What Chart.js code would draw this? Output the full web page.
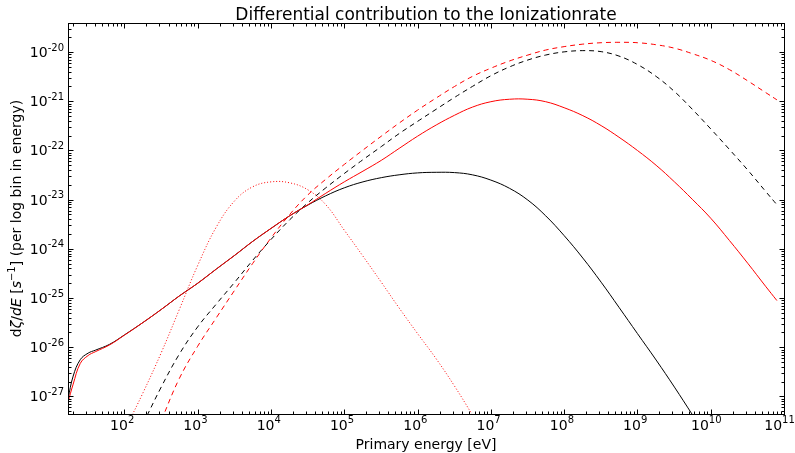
<!DOCTYPE html>
<html>
<head>
<meta charset="utf-8">
<script src="https://cdn.jsdelivr.net/npm/chart.js@4.4.1/dist/chart.umd.min.js"></script>
<style>
  html, body { margin: 0; padding: 0; background: #fff; }
  #wrap { width: 795px; height: 453px; }
</style>
</head>
<body>
<div id="wrap"><canvas id="chart" width="795" height="453"></canvas></div>
<script>
// Primary energy grid [eV]
const energy = [17, 20, 25, 32, 40, 63, 100, 180, 320, 560,
    1e3, 1.8e3, 3.2e3, 5.6e3, 1e4, 1.8e4, 3.2e4, 5.6e4, 1e5, 1.8e5,
    3.2e5, 5.6e5, 1e6, 1.8e6, 3.2e6, 5.6e6, 1e7, 1.8e7, 3.2e7, 5.6e7,
    1e8, 1.8e8, 3.2e8, 5.6e8, 1e9, 1.8e9, 3.2e9, 5.6e9, 1e10, 1.8e10,
    3.2e10, 5.6e10, 8e10];

// dzeta/dE per log bin [s^-1]
const blackSolid = [8.9e-28, 2.6e-27, 5.6e-27, 7.6e-27, 8.7e-27, 1.15e-26, 1.78e-26, 3.2e-26, 5.9e-26, 1.1e-25,
    2.0e-25, 3.9e-25, 7.4e-25, 1.41e-24, 2.6e-24, 4.7e-24, 7.8e-24, 1.2e-23, 1.74e-23, 2.3e-23,
    2.8e-23, 3.2e-23, 3.5e-23, 3.6e-23, 3.55e-23, 3.2e-23, 2.5e-23, 1.7e-23, 9.8e-24, 4.7e-24,
    1.86e-24, 6.5e-25, 2.1e-25, 6.5e-26, 1.9e-26, 5.5e-27, 1.55e-27, 4.3e-28, 1.15e-28, null,
    null, null, null];

const redSolid = [7.6e-28, 1.78e-27, 4.7e-27, 6.8e-27, 8.1e-27, 1.12e-26, 1.76e-26, 3.2e-26, 5.9e-26, 1.1e-25,
    2.0e-25, 3.9e-25, 7.4e-25, 1.41e-24, 2.6e-24, 4.7e-24, 7.9e-24, 1.35e-23, 2.3e-23, 3.8e-23,
    6.3e-23, 1.1e-22, 1.95e-22, 3.3e-22, 5.2e-22, 7.6e-22, 9.8e-22, 1.1e-21, 1.1e-21, 9.8e-22,
    7.4e-22, 5.1e-22, 3.2e-22, 1.86e-22, 1.0e-22, 5.0e-23, 2.3e-23, 1.02e-23, 4.2e-24, 1.48e-24,
    5.1e-25, 1.74e-25, 8.9e-26];

const blackDashed = [null, null, null, null, null, null, null, 2.8e-28, 1.58e-27, 7.2e-27,
    2.6e-26, 7.6e-26, 2.1e-25, 5.8e-25, 1.55e-24, 3.9e-24, 8.7e-24, 1.74e-23, 3.4e-23, 6.5e-23,
    1.2e-22, 2.2e-22, 3.9e-22, 6.9e-22, 1.2e-21, 2.0e-21, 3.3e-21, 5.0e-21, 6.9e-21, 8.7e-21,
    1.01e-20, 1.07e-20, 1.02e-20, 8.3e-21, 5.6e-21, 3.2e-21, 1.58e-21, 6.9e-22, 2.75e-22, 1.05e-22,
    4.0e-23, 1.48e-23, 7.9e-24];

const redDashed = [null, null, null, null, null, null, null, null, 3.3e-28, 2.3e-27,
    1.05e-26, 4.0e-26, 1.45e-25, 5.0e-25, 1.66e-24, 5.0e-24, 1.26e-23, 2.6e-23, 5.2e-23, 1.02e-22,
    1.95e-22, 3.6e-22, 6.6e-22, 1.17e-21, 2.0e-21, 3.2e-21, 4.7e-21, 6.6e-21, 8.7e-21, 1.1e-20,
    1.29e-20, 1.45e-20, 1.55e-20, 1.58e-20, 1.55e-20, 1.41e-20, 1.2e-20, 9.3e-21, 6.8e-21, 4.4e-21,
    2.6e-21, 1.51e-21, 1.07e-21];

const redDotted = [null, null, null, null, null, null, 2.0e-28, 1.2e-27, 7.9e-27, 5.8e-26,
    4.6e-25, 2.8e-24, 9.5e-24, 1.82e-23, 2.3e-23, 2.2e-23, 1.58e-23, 7.9e-24, 2.4e-24, 7.1e-25,
    2.1e-25, 6.3e-26, 1.9e-26, 5.8e-27, 1.62e-27, 4.2e-28, 1.0e-28, null, null, null,
    null, null, null, null, null, null, null, null, null, null,
    null, null, null];

// Axis ranges and labelled decades
const xMin = 17, xMax = 1e11;
const yMin = 4.4e-28, yMax = 3.9e-20;
const xTickExps = [2, 3, 4, 5, 6, 7, 8, 9, 10, 11];
const yTickExps = [-27, -26, -25, -24, -23, -22, -21, -20];

const FONT = "'DejaVu Sans', 'Liberation Sans', sans-serif";

const toPoints = (vals) => energy
    .map((e, i) => ({ x: e, y: vals[i] }))
    .filter(p => p.y !== null);

// ticks, frame and all texts, matplotlib style
const axisDecor = {
    id: 'axisDecor',
    afterDraw(chart) {
        const { ctx, chartArea: a, scales: { x, y } } = chart;
        ctx.save();
        ctx.strokeStyle = '#000';
        ctx.fillStyle = '#000';
        ctx.lineWidth = 1;

        const L = a.left + 0.5, R = a.right + 0.5, T = a.top + 0.5, B = a.bottom + 0.5;

        // minor + major ticks, pointing inward on all four sides
        ctx.beginPath();
        for (let d = Math.floor(Math.log10(xMin)); d <= Math.ceil(Math.log10(xMax)); d++) {
            for (let m = 1; m <= 9; m++) {
                const v = m * Math.pow(10, d);
                if (v < xMin || v > xMax) continue;
                const px = Math.round(x.getPixelForValue(v)) + 0.5;
                const len = m === 1 ? 5 : 3;
                ctx.moveTo(px, B); ctx.lineTo(px, B - len);
                ctx.moveTo(px, T); ctx.lineTo(px, T + len);
            }
        }
        for (let d = Math.floor(Math.log10(yMin)); d <= Math.ceil(Math.log10(yMax)); d++) {
            for (let m = 1; m <= 9; m++) {
                const v = m * Math.pow(10, d);
                if (v < yMin || v > yMax) continue;
                const py = Math.round(y.getPixelForValue(v)) + 0.5;
                const len = m === 1 ? 5 : 3;
                ctx.moveTo(L, py); ctx.lineTo(L + len, py);
                ctx.moveTo(R, py); ctx.lineTo(R - len, py);
            }
        }
        ctx.stroke();

        // frame
        ctx.strokeRect(L, T, R - L, B - T);

        // power-of-ten labels
        const big = '14px ' + FONT, small = '10px ' + FONT;
        const measure = (exp) => {
            ctx.font = big; const w10 = ctx.measureText('10').width;
            ctx.font = small; const ws = ctx.measureText(String(exp)).width;
            return { w10, ws };
        };
        const drawPow = (exp, left, base, supBase) => {
            const { w10 } = measure(exp);
            ctx.font = big; ctx.fillText('10', left, base);
            ctx.font = small; ctx.fillText(String(exp), left + w10, supBase);
        };
        ctx.textAlign = 'left';
        ctx.textBaseline = 'alphabetic';

        xTickExps.forEach(e => {
            const px = x.getPixelForValue(Math.pow(10, e));
            const { w10, ws } = measure(e);
            const cx = px - ws * 0.35;
            drawPow(e, cx - (w10 + ws) / 2, 430, 423);
        });
        yTickExps.forEach(e => {
            const py = y.getPixelForValue(Math.pow(10, e));
            const { w10, ws } = measure(e);
            drawPow(e, 64 - (w10 + ws), py + 5, py - 1.5);
        });

        // title
        const cxArea = (a.left + a.right) / 2;
        ctx.textAlign = 'center';
        ctx.font = '17px ' + FONT;
        ctx.fillText('Differential contribution to the Ionizationrate', cxArea, 20);

        // x label
        ctx.font = '14px ' + FONT;
        ctx.fillText('Primary energy [eV]', cxArea, 449);

        // y label (mathtext-like pieces)
        const parts = [
            { t: 'd', f: '14px ' + FONT, dy: 0 },
            { t: 'ζ', f: 'italic 14px ' + FONT, dy: 0 },
            { t: '/', f: '14px ' + FONT, dy: 0 },
            { t: 'dE', f: 'italic 14px ' + FONT, dy: 0 },
            { t: ' [', f: '14px ' + FONT, dy: 0 },
            { t: 's', f: 'italic 14px ' + FONT, dy: 0 },
            { t: '−1', f: '10px ' + FONT, dy: -6 },
            { t: '] (per log bin in energy)', f: '14px ' + FONT, dy: 0 }
        ];
        let total = 0;
        parts.forEach(p => { ctx.font = p.f; p.w = ctx.measureText(p.t).width; total += p.w; });
        ctx.translate(21, (a.top + a.bottom) / 2);
        ctx.rotate(-Math.PI / 2);
        ctx.textAlign = 'left';
        let xx = -total / 2;
        parts.forEach(p => { ctx.font = p.f; ctx.fillText(p.t, xx, p.dy); xx += p.w; });

        ctx.restore();
    }
};

const ctx = document.getElementById('chart').getContext('2d');
new Chart(ctx, {
    type: 'line',
    data: {
        datasets: [
            { label: 'red solid', data: toPoints(redSolid), borderColor: '#ff0000', order: 1 },
            { label: 'black solid', data: toPoints(blackSolid), borderColor: '#000000', order: 2 },
            { label: 'red dashed', data: toPoints(redDashed), borderColor: '#ff0000', borderDash: [5, 4], order: 3 },
            { label: 'black dashed', data: toPoints(blackDashed), borderColor: '#000000', borderDash: [5, 4], order: 4 },
            { label: 'red dotted', data: toPoints(redDotted), borderColor: '#ff0000', borderDash: [1, 2], order: 5 }
        ]
    },
    options: {
        responsive: false,
        animation: false,
        devicePixelRatio: 1,
        layout: { padding: { left: 68, top: 23, right: 11, bottom: 39 } },
        plugins: {
            legend: { display: false },
            tooltip: { enabled: false },
            title: { display: false }
        },
        elements: {
            point: { radius: 0 },
            line: { borderWidth: 1, fill: false, tension: 0.4 }
        },
        scales: {
            x: { type: 'logarithmic', min: xMin, max: xMax, display: false },
            y: { type: 'logarithmic', min: yMin, max: yMax, display: false }
        }
    },
    plugins: [axisDecor]
});
</script>
</body>
</html>
